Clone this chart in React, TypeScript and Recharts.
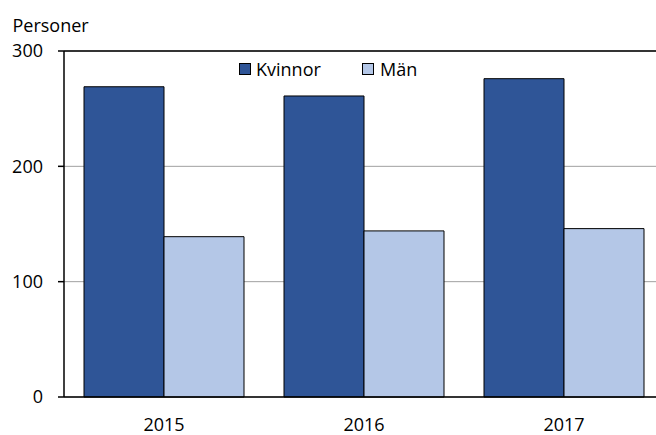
import { BarChart, Bar, XAxis, YAxis, CartesianGrid, ReferenceLine } from "recharts";

// Personer per år
const years = ["2015", "2016", "2017"];
const kvinnor = [269, 261, 276];
const man = [139, 144, 146];
const yTicks = [0, 100, 200, 300];
const seriesNames = ["Kvinnor", "Män"];

const COLORS = { kvinnor: "#2F5597", man: "#B4C7E7" };
const FONT = "'Open Sans', sans-serif";

const data = years.map((y, i) => ({ year: y, kvinnor: kvinnor[i], man: man[i] }));

export default function App() {
  return (
    <div
      style={{
        position: "fixed",
        left: 0,
        top: 0,
        width: 656,
        height: 435,
        overflow: "hidden",
        background: "#fff",
        fontFamily: FONT,
      }}
    >
      <BarChart
        width={664}
        height={435}
        data={data}
        margin={{ top: 51, right: 0, left: 0, bottom: 0 }}
        barCategoryGap={20}
        barGap={0}
      >
        <CartesianGrid vertical={false} stroke="#a0a0a0" strokeWidth={1} />
        <XAxis
          dataKey="year"
          height={38}
          tickLine={false}
          tickSize={0}
          tickMargin={21}
          axisLine={{ stroke: "#000", strokeWidth: 1.5 }}
          tick={{ fontSize: 18, fill: "#000", fontFamily: FONT }}
        />
        <YAxis
          width={64}
          domain={[0, 300]}
          ticks={yTicks}
          tickSize={6}
          tickMargin={15}
          axisLine={{ stroke: "#000", strokeWidth: 1.5 }}
          tickLine={{ stroke: "#000", strokeWidth: 1.5 }}
          tick={{ fontSize: 18, fill: "#000", fontFamily: FONT }}
        />
        <ReferenceLine y={300} stroke="#000" strokeWidth={1.5} />
        <Bar dataKey="kvinnor" name={seriesNames[0]} fill={COLORS.kvinnor} stroke="#000" strokeWidth={1} isAnimationActive={false} />
        <Bar dataKey="man" name={seriesNames[1]} fill={COLORS.man} stroke="#000" strokeWidth={1} isAnimationActive={false} />
      </BarChart>

      {/* axeltitel och förklaring */}
      <svg
        width={656}
        height={435}
        style={{ position: "absolute", left: 0, top: 0, pointerEvents: "none" }}
      >
        <text x={12.5} y={31.7} fontSize={18} fontFamily={FONT} fill="#000">
          Personer
        </text>
        <rect x={239.5} y={63.5} width={11} height={11} fill={COLORS.kvinnor} stroke="#000" strokeWidth={1} />
        <text x={256} y={76} fontSize={18} fontFamily={FONT} fill="#000">
          {seriesNames[0]}
        </text>
        <rect x={362.5} y={63.5} width={11} height={11} fill={COLORS.man} stroke="#000" strokeWidth={1} />
        <text x={380} y={76} fontSize={18} fontFamily={FONT} fill="#000">
          {seriesNames[1]}
        </text>
      </svg>
    </div>
  );
}
